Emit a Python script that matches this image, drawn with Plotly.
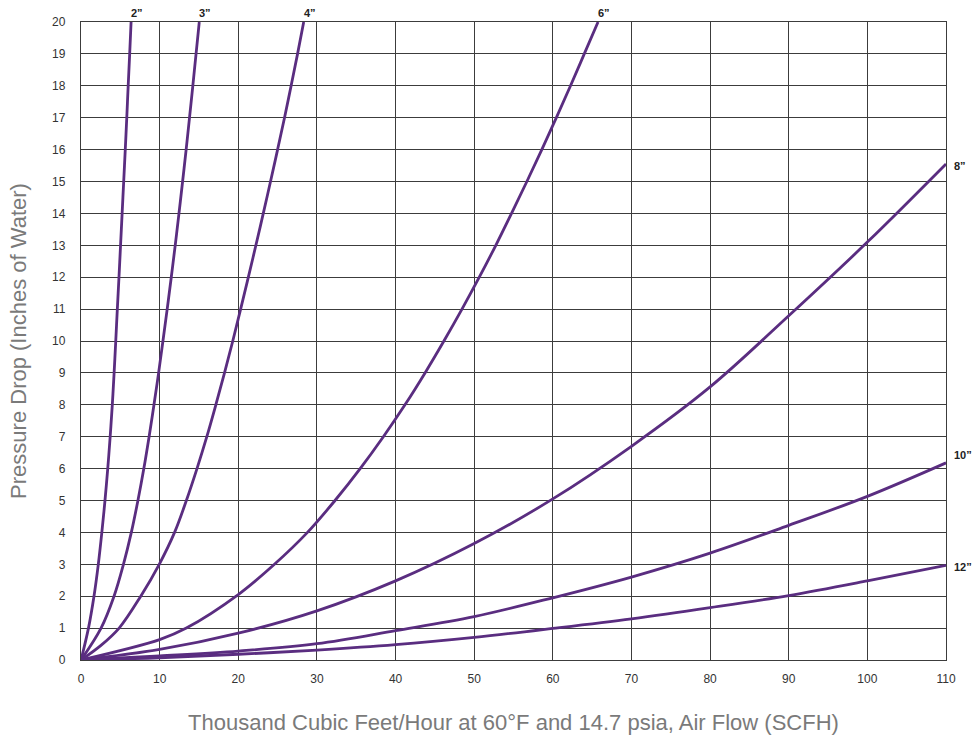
import plotly.graph_objects as go

# Pressure drop values (Inches of Water)
pd_levels = [0, 1, 2, 3, 4, 5, 6, 7, 8, 9, 10, 11, 12, 13, 14, 15, 16, 17, 18, 19, 20]

# 2" pipe
x_2in = [0, 0.95, 1.65, 2.2, 2.65, 3.05, 3.4, 3.71, 3.98, 4.21, 4.42, 4.62, 4.83, 5.03, 5.23, 5.43, 5.63, 5.82, 6.0, 6.19, 6.37]
# 3" pipe
x_3in = [0, 2.55, 4.2, 5.4, 6.4, 7.24, 7.99, 8.66, 9.28, 9.87, 10.42, 10.96, 11.48, 11.98, 12.46, 12.92, 13.37, 13.8, 14.22, 14.63, 15.04]
# 4" pipe
x_4in = [0, 2.5, 4.85, 7.6, 9.95, 11.9, 13.4, 14.75, 16.0, 17.15, 18.25, 19.3, 20.3, 21.28, 22.24, 23.18, 24.1, 25.0, 25.88, 26.72, 27.54, 28.32]
y_4in = [0, 0.45, 1, 2, 3, 4, 5, 6, 7, 8, 9, 10, 11, 12, 13, 14, 15, 16, 17, 18, 19, 20]

# 6" pipe
x_6in = [0, 10, 13.4, 20, 24.6, 28.8, 32.3, 35.5, 38.45, 41.2, 43.75, 46.15, 48.45, 50.65, 52.75, 54.75, 56.7, 58.6, 60.45, 62.25, 64.0, 65.75]
y_6in = [0, 0.64, 1, 2.05, 3, 4, 5, 6, 7, 8, 9, 10, 11, 12, 13, 14, 15, 16, 17, 18, 19, 20]

# Flow (thousand SCFH) for larger pipes
flow = [0, 10, 20, 30, 40, 50, 60, 70, 80, 90, 100, 110]
y_8in = [0, 0.33, 0.84, 1.54, 2.48, 3.65, 5.05, 6.7, 8.56, 10.79, 13.1, 15.55]
y_10in = [0, 0.13, 0.28, 0.51, 0.92, 1.36, 1.95, 2.6, 3.35, 4.22, 5.13, 6.18]
y_12in = [0, 0.07, 0.18, 0.31, 0.48, 0.71, 0.99, 1.29, 1.64, 2.02, 2.48, 2.97]

x_ticks = [0, 10, 20, 30, 40, 50, 60, 70, 80, 90, 100, 110]
y_ticks = list(range(0, 21))

curve_color = "#5a2d80"

series = [
    ('2”', x_2in, pd_levels),
    ('3”', x_3in, pd_levels),
    ('4”', x_4in, y_4in),
    ('6”', x_6in, y_6in),
    ('8”', flow, y_8in),
    ('10”', flow, y_10in),
    ('12”', flow, y_12in),
]

fig = go.Figure()
for name, xs, ys in series:
    fig.add_trace(go.Scatter(
        x=xs, y=ys, mode="lines", name=name,
        line=dict(color=curve_color, width=2.8, shape="spline", smoothing=1.0),
        hoverinfo="skip", showlegend=False, cliponaxis=True,
    ))

label_font = dict(family="Liberation Sans, Arial, sans-serif", size=11, color="#222222")
# Top labels for small pipes
for name, xs, ys in series[:4]:
    fig.add_annotation(x=xs[-1], y=ys[-1], text="<b>" + name + "</b>", showarrow=False,
                       xanchor="center", yanchor="bottom", yshift=1, xshift=6, font=label_font)
# Right labels for large pipes
right_yshift = [-2, 8, -2]
for (name, xs, ys), dy in zip(series[4:], right_yshift):
    fig.add_annotation(x=xs[-1], y=ys[-1], text="<b>" + name + "</b>", showarrow=False,
                       xanchor="left", yanchor="middle", xshift=6, yshift=dy, font=label_font)

grid_color = "#3c3c3c"
tick_font = dict(family="Liberation Sans, Arial, sans-serif", size=12, color="#333333")
title_font = dict(family="Liberation Sans, Arial, sans-serif", size=22, color="#7a7a7a")

fig.update_layout(
    width=977, height=736,
    margin=dict(l=81, r=31, t=22, b=76, autoexpand=False),
    paper_bgcolor="white", plot_bgcolor="white",
    xaxis=dict(
        range=[0, 110], tickvals=x_ticks, ticktext=[str(v) for v in x_ticks],
        showgrid=True, gridcolor=grid_color, gridwidth=1.3,
        showline=True, linecolor=grid_color, linewidth=1.3, mirror=True,
        zeroline=False, ticks="", tickfont=tick_font, ticklabelstandoff=7,
        automargin=False,
        title=dict(text="Thousand Cubic Feet/Hour at 60°F and 14.7 psia, Air Flow (SCFH)",
                   font=title_font, standoff=30),
        fixedrange=True,
    ),
    yaxis=dict(
        range=[0, 20], tickvals=y_ticks, ticktext=[str(v) for v in y_ticks],
        showgrid=True, gridcolor=grid_color, gridwidth=1.3,
        showline=True, linecolor=grid_color, linewidth=1.3, mirror=True,
        zeroline=False, ticks="", tickfont=tick_font, ticklabelstandoff=12,
        automargin=False,
        title=dict(text="Pressure Drop (Inches of Water)", font=title_font, standoff=19),
        fixedrange=True,
    ),
)

# remove the default 8px page margin so the 977x736 figure fills the window exactly
fig.write_html("out.html",
               config={"displayModeBar": False},
               post_script="document.body.style.margin='0';document.body.style.overflow='hidden';")
